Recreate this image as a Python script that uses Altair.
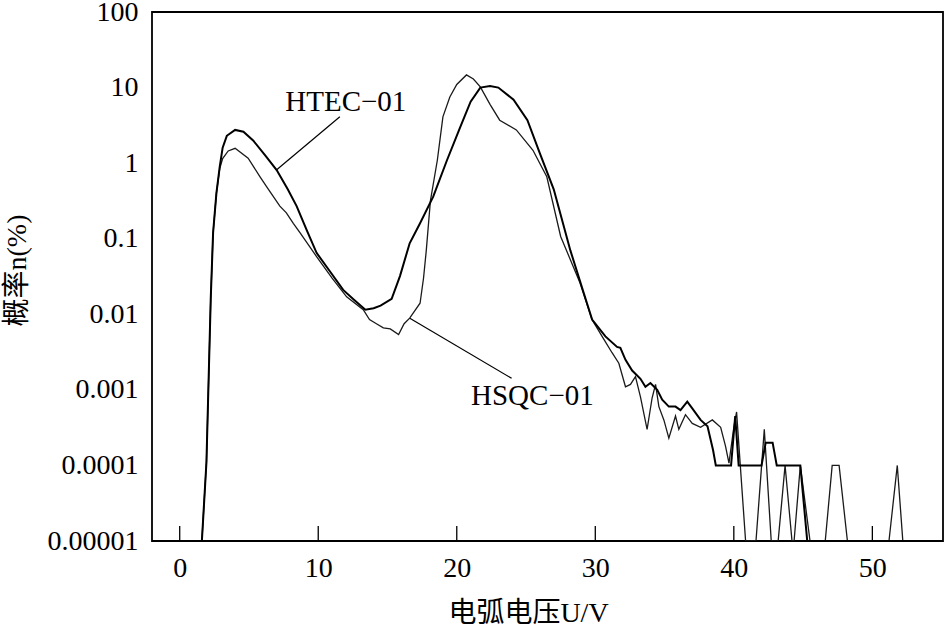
import altair as alt
import pandas as pd

# ---- data ----
htec_x = [0.85, 1.6, 1.93, 2.24, 2.41, 2.65, 2.89, 3.1, 3.4, 4.0, 4.6, 5.3, 6.2, 7.0, 7.8,
          8.44, 9.2, 9.88, 10.8, 11.8, 12.6, 13.4, 14.0, 14.5, 15.3, 15.9, 16.6, 17.35,
          18.3, 19.3, 20.25, 21.0, 21.7, 22.4, 23.0, 24.1, 25.1, 26.0, 27.0, 28.2, 29.4,
          29.77, 30.73, 31.57, 31.81, 32.18, 32.66, 33.26, 33.62, 33.98, 34.47, 34.83,
          35.31, 35.79, 36.15, 36.64, 37.0, 37.6, 38.1, 38.5, 38.7, 39.8, 40.1, 40.35,
          42.0, 42.3, 42.8, 43.1, 44.8, 45.3, 55.0]
htec_y = [1e-5, 1e-5, 1.1e-4, 0.016, 0.12, 0.4, 0.9, 1.6, 2.3, 2.75, 2.6, 2.0, 1.25, 0.81, 0.45,
          0.27, 0.126, 0.065, 0.038, 0.021, 0.0155, 0.0115, 0.012, 0.013, 0.016, 0.032, 0.087, 0.16,
          0.36, 1.1, 3.0, 6.5, 10.0, 10.5, 10.0, 6.9, 3.7, 1.35, 0.45, 0.07, 0.014,
          0.0085, 0.0051, 0.0037, 0.0036, 0.0025, 0.0018, 0.0014, 0.0011, 0.00123, 0.001, 0.00074,
          0.0006, 0.0006, 0.00054, 0.0007, 0.00057, 0.0004, 0.00033, 0.00016, 0.0001, 0.0001, 0.00045, 0.0001,
          0.0001, 0.0002, 0.0002, 0.0001, 0.0001, 1e-5, 1e-5]

hsqc_x = [0.85, 1.6, 1.93, 2.24, 2.41, 2.65, 2.89, 3.1, 3.5, 4.0, 4.94, 5.8, 6.27, 7.23, 7.7,
          8.2, 8.68, 9.88, 11.0, 12.05, 13.25, 13.7, 14.2, 14.7, 15.2, 15.8, 16.2, 16.6,
          17.35, 17.6, 17.8, 18.1, 18.6, 19.0, 19.5, 20.0, 20.7, 21.2, 21.7, 22.4, 23.1,
          24.3, 25.5, 26.5, 27.5, 28.9, 29.77, 30.49, 31.21, 31.7, 32.18, 32.54, 32.9,
          33.26, 33.74, 34.1, 34.35, 34.59, 34.95, 35.31, 35.79, 36.03, 36.51, 37.0, 37.6,
          38.45, 39.05, 39.4, 39.65, 40.0, 40.2, 40.37, 40.85, 41.6, 42.2, 42.7, 43.2,
          43.7, 44.2, 44.35, 44.8, 45.5, 46.6, 47.1, 47.6, 48.2, 51.2, 51.8, 52.2, 55.0]
hsqc_y = [1e-5, 1e-5, 1.1e-4, 0.016, 0.12, 0.4, 0.85, 1.15, 1.45, 1.57, 1.16, 0.66, 0.49, 0.27, 0.22,
          0.16, 0.12, 0.058, 0.03, 0.017, 0.0115, 0.0085, 0.0075, 0.0066, 0.0064, 0.0054, 0.0075, 0.0089,
          0.014, 0.03, 0.07, 0.32, 1.1, 4.1, 7.5, 11.0, 14.7, 13.0, 10.2, 6.0, 3.7,
          2.75, 1.48, 0.66, 0.107, 0.026, 0.0085, 0.0051, 0.0031, 0.00225, 0.0011, 0.00118, 0.0015,
          0.00081, 0.0003, 0.00078, 0.00118, 0.0006, 0.0004, 0.00023, 0.00045, 0.0003, 0.00047, 0.00036, 0.00032,
          0.0004, 0.00032, 0.00018, 0.000107, 0.00032, 0.00051, 0.00018, 1e-5, 1e-5, 0.0003, 1e-5, 1e-5,
          1e-4, 1e-5, 1e-5, 1e-4, 1e-5, 1e-5, 1e-4, 1e-4, 1e-5, 1e-5, 1e-4, 1e-5, 1e-5]

x_ticks = [0, 10, 20, 30, 40, 50]
y_ticks = [1e-5, 1e-4, 1e-3, 1e-2, 1e-1, 1, 10, 100]

label_text = ["HTEC\u221201", "HSQC\u221201"]
label_x = [11.99, 25.46]
label_y = [6.45, 0.00083]

leader_x = [11.56, 16.61]
leader_x2 = [6.98, 23.96]
leader_y = [4.11, 0.00885]
leader_y2 = [0.81, 0.00142]

SERIF = "Liberation Serif, Times New Roman, Noto Sans CJK SC, serif"

df_htec = pd.DataFrame({"x": htec_x, "y": htec_y})
df_hsqc = pd.DataFrame({"x": hsqc_x, "y": hsqc_y})
df_lab = pd.DataFrame({"t": label_text, "x": label_x, "y": label_y})
df_lead = pd.DataFrame({"x": leader_x, "x2": leader_x2, "y": leader_y, "y2": leader_y2})
df_ticks = pd.DataFrame({"x": x_ticks})

xscale = alt.Scale(domain=[-2.0, 55.1], nice=False, zero=False)
yscale = alt.Scale(type="log", domain=[1e-5, 100], nice=False)

xaxis = alt.Axis(values=x_ticks, format="d", tickSize=0, domain=False, grid=False,
                 labelFont=SERIF, labelFontSize=28, labelPadding=13, labelColor="black",
                 title="电弧电压U/V", titleFont=SERIF, titleFontSize=28, titleFontWeight="normal",
                 titleColor="black", titleX=376, titleY=80, titleBaseline="alphabetic",
                 titleAnchor="start", titleAlign="center")
yaxis = alt.Axis(values=y_ticks, format=".5~f", tickSize=0, domain=False, grid=False,
                 labelFont=SERIF, labelFontSize=28, labelPadding=14, labelColor="black",
                 title="概率n(%)", titleFont=SERIF, titleFontSize=28, titleFontWeight="normal",
                 titleColor="black", titleX=-135, titleY=258, titleAngle=270,
                 titleBaseline="middle", titleAlign="center", titleAnchor="start")

base_x = alt.X("x:Q", scale=xscale, axis=xaxis)
base_y = alt.Y("y:Q", scale=yscale, axis=yaxis)

line_hsqc = alt.Chart(df_hsqc).mark_line(color="#1a1a1a", strokeWidth=1.3, clip=True).encode(
    x=base_x, y=base_y, order="x:Q")
line_htec = alt.Chart(df_htec).mark_line(color="black", strokeWidth=2.0, clip=True).encode(
    x="x:Q", y="y:Q", order="x:Q")

leaders = alt.Chart(df_lead).mark_rule(color="black", strokeWidth=1.2).encode(
    x="x:Q", x2="x2:Q", y="y:Q", y2="y2:Q")

labels = alt.Chart(df_lab).mark_text(font=SERIF, fontSize=29, color="black",
                                     align="center", baseline="middle").encode(
    x="x:Q", y="y:Q", text="t:N")

ticks = alt.Chart(df_ticks).mark_rule(color="black", strokeWidth=1.3).encode(
    x="x:Q", y=alt.value(529), y2=alt.value(514))

chart = alt.layer(line_hsqc, line_htec, leaders, labels, ticks).properties(
    width=791, height=529,
    autosize=alt.AutoSizeParams(type="none"),
    padding={"left": 152, "top": 12, "right": 2, "bottom": 86},
    background="white",
).configure_view(stroke="black", strokeWidth=1.8)

chart.save("out.html", embed_options={"renderer": "svg", "actions": False})
